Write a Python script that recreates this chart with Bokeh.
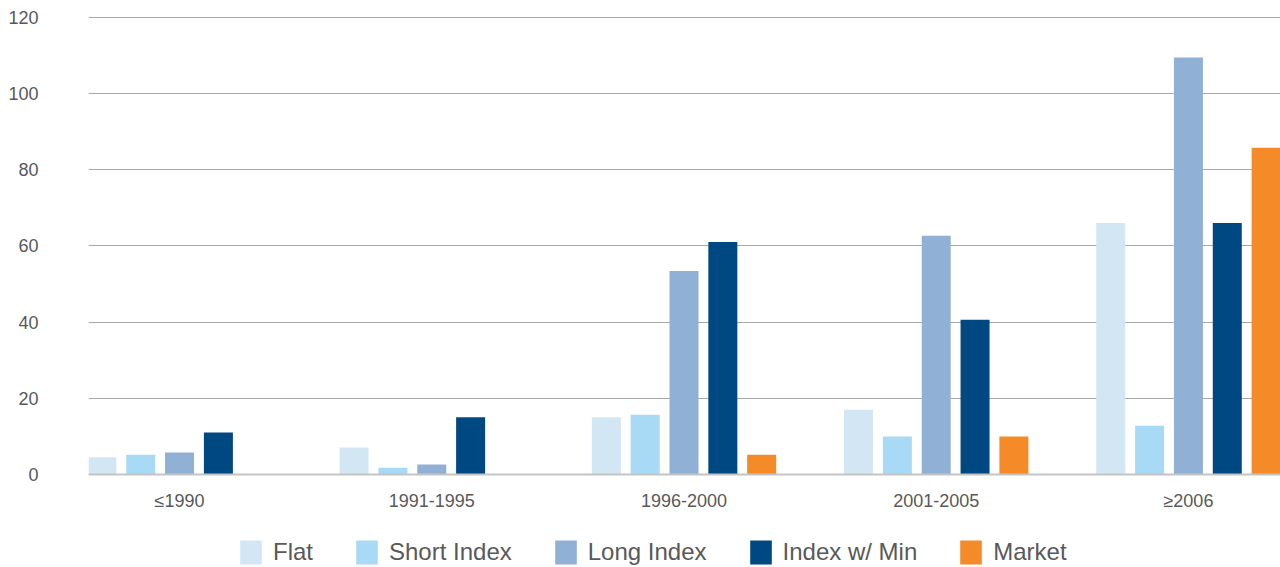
from bokeh.plotting import figure
from bokeh.layouts import column
from bokeh.models import ColumnDataSource, Range1d, SingleIntervalTicker, Legend, LegendItem
from bokeh.transform import dodge
from bokeh.embed import file_html
from bokeh.resources import INLINE

nan = float("nan")

categories = ["≤1990", "1991-1995", "1996-2000", "2001-2005", "≥2006"]
flat = [4.5, 7.1, 15.0, 17.0, 66.0]
short_index = [5.2, 1.8, 15.7, 10.0, 12.8]
long_index = [5.8, 2.6, 53.4, 62.6, 109.4]
index_w_min = [11.0, 15.0, 61.0, 40.6, 66.0]
market = [nan, nan, 5.2, 10.0, 85.7]

series_names = ["Flat", "Short Index", "Long Index", "Index w/ Min", "Market"]
series_keys = ["flat", "short_index", "long_index", "index_w_min", "market"]
colors = ["#D2E7F3", "#A8D9F5", "#91B0D6", "#004882", "#F58B28"]

src = ColumnDataSource(dict(
    x=list(range(len(categories))),
    flat=flat, short_index=short_index, long_index=long_index,
    index_w_min=index_w_min, market=market,
))

W = 1280
p = figure(width=W, height=516, x_range=Range1d(-0.361, 4.365), y_range=Range1d(0, 120.4),
           output_backend="svg", toolbar_location=None,
           min_border_left=88, min_border_right=0, min_border_top=15, min_border_bottom=42)
p.outline_line_color = None
p.background_fill_color = "white"
p.border_fill_color = "white"

step = 0.154
bar_w = 0.115
for i, (key, col) in enumerate(zip(series_keys, colors)):
    off = (i - 2) * step
    p.vbar(x=dodge("x", off, range=p.x_range), top=key, width=bar_w, bottom=0,
           source=src, fill_color=col, line_color=None)

# y axis
p.yaxis.ticker = SingleIntervalTicker(interval=20)
p.yaxis.axis_line_color = None
p.yaxis.major_tick_line_color = None
p.yaxis.minor_tick_line_color = None
p.yaxis.major_label_text_font = "Liberation Sans"
p.yaxis.major_label_text_font_size = "18px"
p.yaxis.major_label_text_color = "#595959"
p.yaxis.major_label_standoff = 44

# x axis
p.xaxis.ticker = list(range(len(categories)))
p.xaxis.major_label_overrides = {i: c for i, c in enumerate(categories)}
p.xaxis.axis_line_color = "#C4C4C4"
p.xaxis.axis_line_width = 2
p.xaxis.major_tick_line_color = None
p.xaxis.minor_tick_line_color = None
p.xaxis.major_label_text_font = "Liberation Sans"
p.xaxis.major_label_text_font_size = "18px"
p.xaxis.major_label_text_color = "#595959"
p.xaxis.major_label_standoff = 10

p.xgrid.grid_line_color = None
p.ygrid.grid_line_color = "#A8A8A8"
p.ygrid.grid_line_width = 1

# legend in a strip below the chart (zero-height bars out of view; only the legend shows)
lg = figure(width=W, height=51, x_range=Range1d(-0.361, 4.365), y_range=Range1d(1000, 1001),
            output_backend="svg", toolbar_location=None,
            min_border_left=88, min_border_right=0, min_border_top=0, min_border_bottom=0)
lg.axis.visible = False
lg.grid.visible = False
lg.outline_line_color = None
items = []
for i, (n, key, col) in enumerate(zip(series_names, series_keys, colors)):
    r = lg.vbar(x=dodge("x", (i - 2) * step, range=lg.x_range), top=key, bottom=key,
                width=bar_w, source=src, fill_color=col, line_color=None)
    items.append(LegendItem(label=n, renderers=[r]))

legend = Legend(
    items=items, orientation="horizontal", location=(149, 0),
    label_text_font="Liberation Sans", label_text_font_size="24px", label_text_color="#595959",
    glyph_width=27, glyph_height=30, label_standoff=9, spacing=40,
    border_line_color=None, background_fill_alpha=0, padding=0, margin=0,
)
lg.add_layout(legend, "center")

layout = column(p, lg, spacing=0)
open("out.html", "w").write(file_html(layout, INLINE))
